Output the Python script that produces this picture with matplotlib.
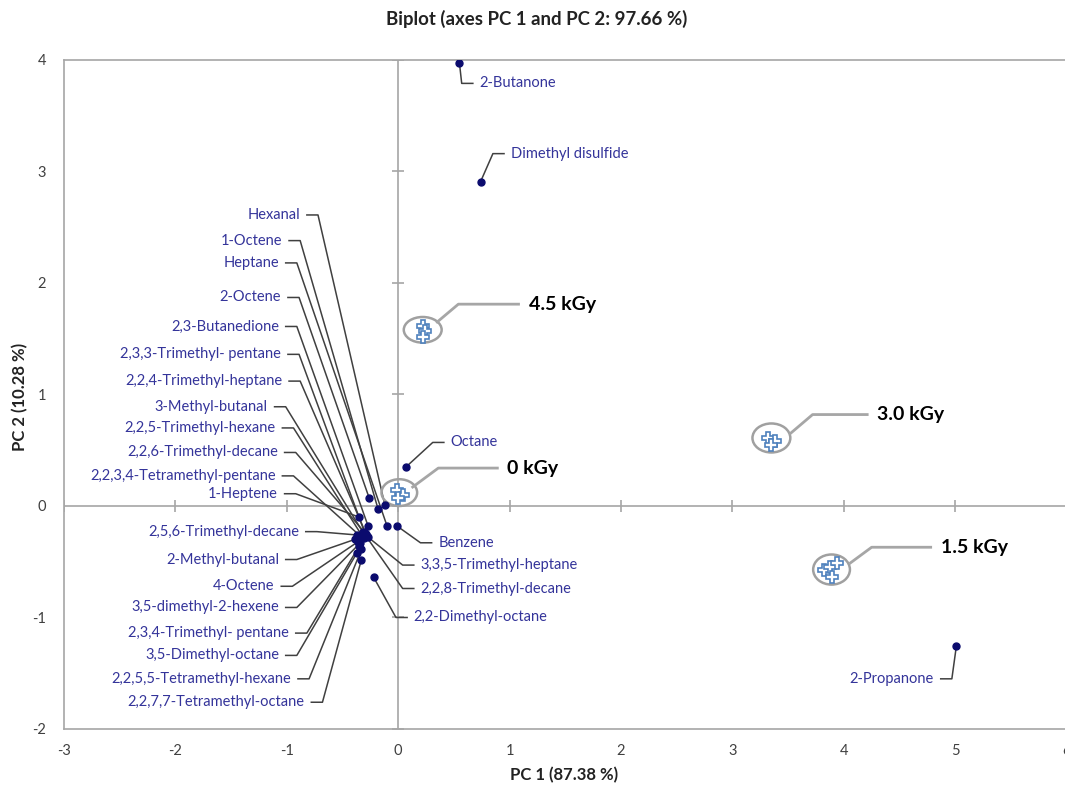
import numpy as np
import matplotlib
matplotlib.use("Agg")
import matplotlib.pyplot as plt
from matplotlib.patches import Ellipse

plt.rcParams["font.family"] = ["Lato", "DejaVu Sans"]
plt.rcParams["axes.unicode_minus"] = False

# variables (loadings) on PC1 / PC2
names = ["2-Butanone", "Dimethyl disulfide", "Octane", "2-Propanone",
         "Hexanal", "1-Octene", "Heptane", "2-Octene", "2,3-Butanedione",
         "2,3,3-Trimethyl- pentane", "2,2,4-Trimethyl-heptane", "3-Methyl-butanal",
         "2,2,5-Trimethyl-hexane", "2,2,6-Trimethyl-decane", "2,2,3,4-Tetramethyl-pentane",
         "1-Heptene", "2,5,6-Trimethyl-decane", "2-Methyl-butanal", "4-Octene",
         "3,5-dimethyl-2-hexene", "2,3,4-Trimethyl- pentane", "3,5-Dimethyl-octane",
         "2,2,5,5-Tetramethyl-hexane", "2,2,7,7-Tetramethyl-octane",
         "Benzene", "3,3,5-Trimethyl-heptane", "2,2,8-Trimethyl-decane", "2,2-Dimethyl-octane"]
pc1 = [0.55, 0.74, 0.07, 5.01,
       -0.12, -0.18, -0.10, -0.26, -0.27,
       -0.30, -0.28, -0.32,
       -0.31, -0.29, -0.34,
       -0.35, -0.37, -0.39, -0.36,
       -0.34, -0.35, -0.37,
       -0.33, -0.33,
       -0.01, -0.27, -0.31, -0.22]
pc2 = [3.97, 2.91, 0.35, -1.26,
       0.01, -0.03, -0.18, 0.07, -0.18,
       -0.24, -0.27, -0.23,
       -0.29, -0.25, -0.27,
       -0.10, -0.26, -0.30, -0.32,
       -0.33, -0.36, -0.42,
       -0.39, -0.48,
       -0.18, -0.28, -0.24, -0.64]

# label elbow positions (layout) and side of the text
lab_x = [0.57, 0.85, 0.31, 4.97,
         -0.72, -0.88, -0.91, -0.89, -0.91,
         -0.89, -0.88, -1.01,
         -0.94, -0.92, -0.94,
         -0.92, -0.73, -0.91, -0.95,
         -0.91, -0.82, -0.91,
         -0.80, -0.68,
         0.20, 0.04, 0.04, -0.02]
lab_y = [3.79, 3.16, 0.57, -1.55,
         2.61, 2.38, 2.18, 1.87, 1.61,
         1.36, 1.12, 0.89,
         0.70, 0.48, 0.27,
         0.11, -0.23, -0.48, -0.72,
         -0.91, -1.14, -1.34,
         -1.55, -1.76,
         -0.33, -0.53, -0.74, -1.00]
lab_side = ["R", "R", "R", "L"] + ["L"] * 20 + ["R"] * 4

# observations (doses)
doses = ["0 kGy", "1.5 kGy", "3.0 kGy", "4.5 kGy"]
obs_x = [[-0.01, 0.04, 0.00], [3.82, 3.88, 3.94, 3.89], [3.32, 3.38, 3.35], [0.22, 0.24, 0.22]]
obs_y = [[0.14, 0.10, 0.07], [-0.57, -0.55, -0.51, -0.64], [0.61, 0.58, 0.55], [1.61, 1.57, 1.52]]
ell_c = [(0.01, 0.12), (3.89, -0.57), (3.35, 0.61), (0.22, 1.58)]
ell_wh = [(0.32, 0.24), (0.33, 0.27), (0.34, 0.26), (0.34, 0.23)]
# callout: start, elbow, end of horizontal
call_pts = [[(0.13, 0.17), (0.36, 0.34), (0.89, 0.34)],
            [(4.06, -0.51), (4.25, -0.37), (4.78, -0.37)],
            [(3.52, 0.65), (3.72, 0.82), (4.21, 0.82)],
            [(0.35, 1.65), (0.54, 1.81), (1.08, 1.81)]]

fig = plt.figure(figsize=(10.65, 7.87), dpi=100)
ax = fig.add_axes([0.0601, 0.0737, 0.9414, 0.8501])
ax.set_xlim(-3, 6)
ax.set_ylim(-2, 4)

frame = "#a6a6a6"
for s in ax.spines.values():
    s.set_color(frame)
    s.set_linewidth(1.2)
ax.axhline(0, color=frame, lw=1.2, zorder=1)
ax.axvline(0, color=frame, lw=1.2, zorder=1)
ticks_x = np.arange(-3, 7)
ticks_y = np.arange(-2, 5)
ax.plot(ticks_x, np.zeros_like(ticks_x), "|", color=frame, ms=8, mew=1.2, zorder=1)
ax.plot(np.zeros_like(ticks_y), ticks_y, "_", color=frame, ms=8, mew=1.2, zorder=1)
ax.set_xticks(ticks_x)
ax.set_yticks(ticks_y)
ax.tick_params(length=0, labelsize=10.5, colors="#404040")
ax.tick_params(axis="x", pad=11)
ax.tick_params(axis="y", pad=13)

stub, gap = 0.10, 0.06
lc = "#404040"
tc = "#34349a"
for n, x, y, lx, ly, sd in zip(names, pc1, pc2, lab_x, lab_y, lab_side):
    if sd == "L":
        ax.plot([lx - stub, lx, x], [ly, ly, y], color=lc, lw=1.1, zorder=2)
        ax.text(lx - stub - gap, ly, n, ha="right", va="center", fontsize=10.5, color=tc)
    else:
        ax.plot([x, lx, lx + stub], [y, ly, ly], color=lc, lw=1.1, zorder=2)
        ax.text(lx + stub + gap, ly, n, ha="left", va="center", fontsize=10.5, color=tc)
ax.plot(pc1, pc2, "o", color="#0b0b6e", ms=5, zorder=4)

for d, ox, oy, c, wh, cp in zip(doses, obs_x, obs_y, ell_c, ell_wh, call_pts):
    ax.plot(ox, oy, "P", ms=9, mfc="white", mec="#4f81bd", mew=1.2, zorder=5)
    ax.add_patch(Ellipse(c, wh[0], wh[1], fill=False, ec="#a0a0a0", lw=1.8, zorder=3))
    xs, ys = zip(*cp)
    ax.plot(xs, ys, color="#a6a6a6", lw=2, zorder=3)
    ax.text(cp[2][0] + 0.09, cp[2][1], d, ha="left", va="center",
            fontsize=14, fontweight="bold", color="black")

fig.text(537 / 1065, 1 - 19 / 787, "Biplot (axes PC 1 and PC 2: 97.66 %)",
         ha="center", va="center", fontsize=13.4, fontweight="bold", color="#222222")
fig.text(564 / 1065, 1 - 775 / 787, "PC 1 (87.38 %)", ha="center", va="center",
         fontsize=12, fontweight="bold", color="#222222")
fig.text(20 / 1065, 1 - 397 / 787, "PC 2 (10.28 %)", ha="center", va="center",
         rotation=90, fontsize=12, fontweight="bold", color="#222222")

fig.savefig("out.png", dpi=100)
